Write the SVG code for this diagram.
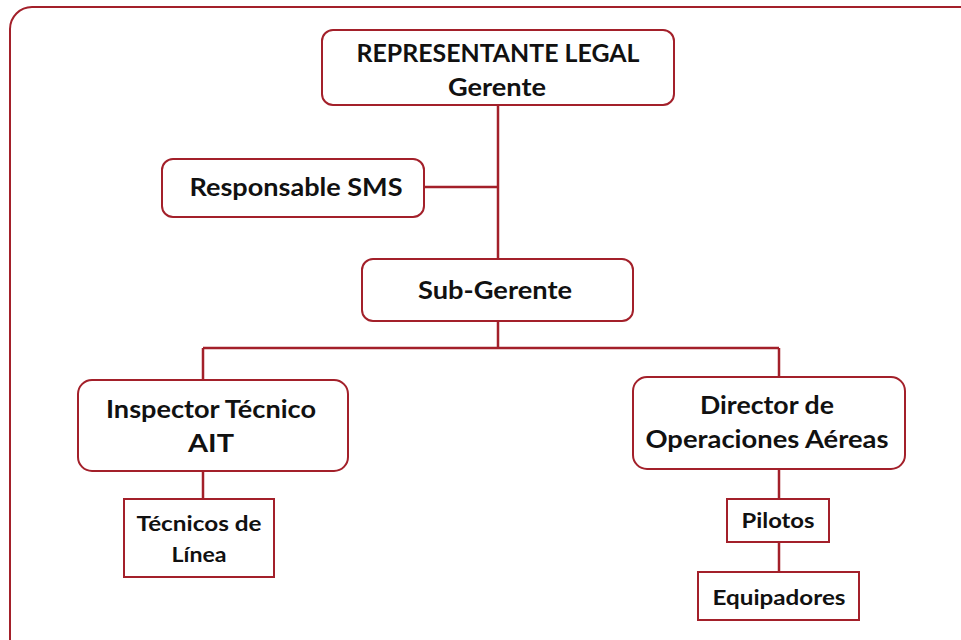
<svg xmlns="http://www.w3.org/2000/svg" width="961" height="640" viewBox="0 0 961 640">
<style>
.box{fill:#fff;stroke:#A3202A;stroke-width:2}
.ln{stroke:#A3202A;stroke-width:2.5;fill:none}
text{font-family:Lato,"Open Sans","Liberation Sans",sans-serif;font-weight:bold;fill:#111;text-anchor:middle}
.t1{font-size:24px}
.t2{font-size:21px}
.t0{font-size:24px}
</style>
<rect width="961" height="640" fill="#fff"/>
<rect x="10" y="7" width="975" height="660" rx="22" fill="#fff" stroke="#A3202A" stroke-width="2"/>
<g id="connectors">
<path class="ln" d="M498 105 V259"/>
<path class="ln" d="M424 187 H498"/>
<path class="ln" d="M498 321 V348 M203 348 H779 M203 348 V380 M779 348 V377"/>
<path class="ln" d="M203 471 V499"/>
<path class="ln" d="M779 469 V499 M779 542 V572"/>
</g>
<g id="representante">
<rect class="box" x="322" y="30" width="352" height="75" rx="11"/>
<text class="t0" x="498" y="62" textLength="283" lengthAdjust="spacingAndGlyphs">REPRESENTANTE LEGAL</text>
<text class="t0" x="497" y="96" textLength="98" lengthAdjust="spacingAndGlyphs">Gerente</text>
</g>
<g id="sms">
<rect class="box" x="162" y="159" width="262" height="58" rx="11"/>
<text class="t1" x="296" y="196" textLength="213" lengthAdjust="spacingAndGlyphs">Responsable SMS</text>
</g>
<g id="subgerente">
<rect class="box" x="362" y="259" width="271" height="62" rx="11"/>
<text class="t1" x="495" y="299" textLength="154" lengthAdjust="spacingAndGlyphs">Sub-Gerente</text>
</g>
<g id="inspector">
<rect class="box" x="78" y="380" width="270" height="91" rx="14"/>
<text class="t1" x="211" y="418" textLength="210" lengthAdjust="spacingAndGlyphs">Inspector Técnico</text>
<text class="t1" x="211" y="452" textLength="46" lengthAdjust="spacingAndGlyphs">AIT</text>
</g>
<g id="tecnicos">
<rect class="box" x="124" y="499" width="150" height="78"/>
<text class="t2" x="199" y="531" textLength="125" lengthAdjust="spacingAndGlyphs">Técnicos de</text>
<text class="t2" x="199" y="562" textLength="55" lengthAdjust="spacingAndGlyphs">Línea</text>
</g>
<g id="director">
<rect class="box" x="633" y="377" width="272" height="92" rx="14"/>
<text class="t1" x="767" y="414" textLength="134" lengthAdjust="spacingAndGlyphs">Director de</text>
<text class="t1" x="767" y="448" textLength="243" lengthAdjust="spacingAndGlyphs">Operaciones Aéreas</text>
</g>
<g id="pilotos">
<rect class="box" x="727" y="499" width="102" height="43"/>
<text class="t2" x="778" y="528" textLength="73" lengthAdjust="spacingAndGlyphs">Pilotos</text>
</g>
<g id="equipadores">
<rect class="box" x="698" y="572" width="161" height="48"/>
<text class="t2" x="779" y="605" textLength="133" lengthAdjust="spacingAndGlyphs">Equipadores</text>
</g>
</svg>
